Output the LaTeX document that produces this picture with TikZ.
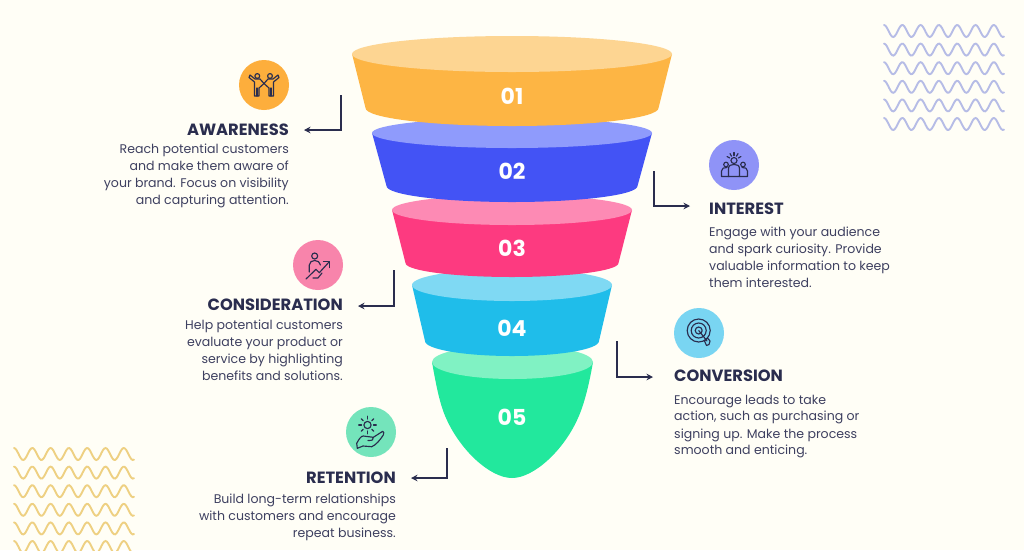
\documentclass[tikz,border=0pt]{standalone}
\usepackage{fontspec}
\setmainfont{Poppins}
\usetikzlibrary{arrows.meta}
\definecolor{bgc}{HTML}{FFFEF6}
\definecolor{navy}{HTML}{2A2D4E}
\definecolor{bodyc}{HTML}{3E4060}
\definecolor{wavblue}{RGB}{182,188,230}
\definecolor{wavgold}{RGB}{238,208,130}
\definecolor{sideA}{RGB}{253,181,68}
\definecolor{topA}{RGB}{253,213,146}
\definecolor{sideB}{RGB}{67,83,245}
\definecolor{topB}{RGB}{143,155,252}
\definecolor{sideC}{RGB}{253,58,128}
\definecolor{topC}{RGB}{253,138,180}
\definecolor{sideD}{RGB}{31,189,234}
\definecolor{topD}{RGB}{127,217,243}
\definecolor{sideE}{RGB}{34,232,157}
\definecolor{topE}{RGB}{128,242,195}
\definecolor{discA}{RGB}{253,174,60}
\definecolor{discB}{RGB}{143,147,247}
\definecolor{discC}{RGB}{248,132,171}
\definecolor{discD}{RGB}{121,213,242}
\definecolor{discE}{RGB}{116,228,187}
\tikzset{
  x=1pt,y=-1pt,
  head/.style={inner sep=0pt,text=navy,font=\fontsize{16.3}{17}\selectfont\bfseries,text height=11.4pt,text depth=0pt},
  bodytxt/.style={inner sep=0pt,text=bodyc,font=\fontsize{12.55}{17}\selectfont},
  num/.style={text=white,font=\fontsize{22}{22}\selectfont\bfseries,inner sep=0pt},
  dot/.style={circle,minimum size=50pt,inner sep=0pt},
  conn/.style={draw=navy,line width=1.7pt,-{Stealth[length=6.5pt,width=6.5pt]},shorten >=15pt},
  ico/.style={draw=navy,line width=1.15pt,line cap=round,line join=round,fill=none},
  wav/.style={line width=1.9pt,line cap=round}
}
% half-ellipse helpers; #1 cx, #2 cy, #3 rx, #4 ry
\newcommand{\lowerhalf}[4]{.. controls ({#1-#3},{#2+0.5523*#4}) and ({#1-0.5523*#3},{#2+#4}) .. ({#1},{#2+#4}) .. controls ({#1+0.5523*#3},{#2+#4}) and ({#1+#3},{#2+0.5523*#4}) .. ({#1+#3},{#2})}
\newcommand{\upperhalf}[4]{.. controls ({#1+#3},{#2-0.5523*#4}) and ({#1+0.5523*#3},{#2-#4}) .. ({#1},{#2-#4}) .. controls ({#1-0.5523*#3},{#2-#4}) and ({#1-#3},{#2-0.5523*#4}) .. ({#1-#3},{#2})}
\newcommand{\funnelseg}[8]{%
  \fill[#7] ({512-#2},#1) -- ({512-#5},#4) \lowerhalf{512}{#4}{#5}{#6} -- ({512+#2},#1) -- cycle;
  \fill[#8] ({512-#2},#1) \lowerhalf{512}{#1}{#2}{#3} \upperhalf{512}{#1}{#2}{#3} -- cycle;
}
\begin{document}
\begin{tikzpicture}
\useasboundingbox (0,0) rectangle (1024,550);
\fill[bgc] (0,0) rectangle (1024,550);

% wave patterns
\begin{scope}
\clip (0,0) rectangle (1024,550);
\foreach \yy in {31,49.6,68.2,86.8,105.4,124}
  \draw[wav,draw=wavblue] plot[smooth,domain=0:120,samples=90] ({884+\x},{\yy-6*cos(19.67*\x)});
\foreach \yy in {454,472.6,491.2,509.8,528.4,547}
  \draw[wav,draw=wavgold] plot[smooth,domain=0:120,samples=90] ({14+\x},{\yy-6*cos(19.67*\x)});
\end{scope}

% funnel, bottom to top
\fill[sideE] (432,362) .. controls (436,385) and (440,405) .. (446,418) .. controls (460,450) and (490,478) .. (512,478) .. controls (534,478) and (564,450) .. (578,418) .. controls (584,405) and (589,385) .. (593,362) -- cycle;
\fill[topE] (432,362) \lowerhalf{512.5}{362}{80.5}{17} \upperhalf{512.5}{362}{80.5}{17} -- cycle;
\funnelseg{285}{100}{16}{341}{87}{15}{sideD}{topD}
\funnelseg{210}{120}{15}{263}{106.5}{14}{sideC}{topC}
\funnelseg{133}{140}{15}{186}{125.5}{16}{sideB}{topB}
\funnelseg{54}{160}{18}{108}{146.5}{18}{sideA}{topA}

\node[num] (n1) at (512,96) {01};
\node[num] (n2) at (512,171) {02};
\node[num] (n3) at (512,248) {03};
\node[num] (n4) at (512,328) {04};
\node[num] (n5) at (512,417) {05};

% icon discs
\node[dot,fill=discA] (i1) at (264,85) {};
\node[dot,fill=discB] (i2) at (734,165) {};
\node[dot,fill=discC] (i3) at (318,265) {};
\node[dot,fill=discD] (i4) at (699,333) {};
\node[dot,fill=discE] (i5) at (371,432) {};

% headings
\node[head,anchor=east] (h1) at (289,130) {AWARENESS};
\node[head,anchor=west] (h2) at (709,209) {INTEREST};
\node[head,anchor=east] (h3) at (343,305) {CONSIDERATION};
\node[head,anchor=west] (h4) at (674,376) {CONVERSION};
\node[head,anchor=east] (h5) at (396,478) {RETENTION};

% body
\node[bodytxt,anchor=north east,align=right] (b1) at (289,143.5) {Reach potential customers\\and make them aware of\\your brand. Focus on visibility\\and capturing attention.};
\node[bodytxt,anchor=north west,align=left] (b2) at (709,226.5) {Engage with your audience\\and spark curiosity. Provide\\valuable information to keep\\them interested.};
\node[bodytxt,anchor=north east,align=right] (b3) at (343,319.5) {Help potential customers\\evaluate your product or\\service by highlighting\\benefits and solutions.};
\node[bodytxt,anchor=north west,align=left] (b4) at (674,394.5) {Encourage leads to take\\action, such as purchasing or\\signing up. Make the process\\smooth and enticing.};
\node[bodytxt,anchor=north east,align=right] (b5) at (396,493.5) {Build long-term relationships\\with customers and encourage\\repeat business.};

% connectors
\coordinate (c1) at (341,95);
\coordinate (c2) at (654,171);
\coordinate (c3) at (394,270);
\coordinate (c4) at (617,341);
\coordinate (c5) at (447,448);
\draw[conn] (c1) |- (h1.east);
\draw[conn,shorten >=19pt] (c2) |- ([yshift=3pt]h2.west);
\draw[conn] (c3) |- ([yshift=-1pt]h3.east);
\draw[conn,shorten >=21pt] (c4) |- ([yshift=-1pt]h4.west);
\draw[conn] (c5) |- (h5.east);

% icon 1: two people
\begin{scope}[shift={(i1.center)},ico]
\draw (-6.7,-9) circle[radius=2.4];
\draw (6,-9) circle[radius=2.4];
\draw (-15,-7.5) -- (-14,-10) -- (-9,-6) -- (-4,-6) -- (0,-1.5) -- (4,-6) -- (9,-6) -- (14,-10) -- (15,-7.5) -- (9.5,-3) -- (9.5,11) -- (5,11) -- (5,3) -- (0,-1.5) -- (-5,3) -- (-5,11) -- (-9.5,11) -- (-9.5,-3) -- cycle;
\draw (-7,3) -- (-7,11) (7,3) -- (7,11);
\end{scope}

% icon 2: audience and sun
\begin{scope}[shift={(i2.center)},ico]
\draw (0,-4.5) circle[radius=3];
\foreach \a in {-150,-120,-90,-60,-30}
  \draw ({5*cos(\a)},{-4.5+5*sin(\a)}) -- ({8*cos(\a)},{-4.5+8*sin(\a)});
\draw (-8,-0.5) circle[radius=2.3];
\draw (9,-0.5) circle[radius=2.3];
\draw (-5,11.5) -- (-12.5,11.5) -- (-12.5,6) .. controls (-12.5,3) and (-10,2.5) .. (-7,2.5);
\draw (5.5,11.5) -- (13.5,11.5) -- (13.5,6) .. controls (13.5,3) and (11,2.5) .. (8,2.5);
\draw (-5.5,11.5) -- (-5.5,4) .. controls (-5.5,0) and (-3,-0.5) .. (0,-0.5) .. controls (3,-0.5) and (5.5,0) .. (5.5,4) -- (5.5,11.5) -- cycle;
\end{scope}

% icon 3: person and rising arrow
\begin{scope}[shift={(i3.center)},ico]
\draw (-3.3,-9) circle[radius=3];
\draw (-8.7,7) -- (-8.7,0) .. controls (-8.7,-3) and (-6,-4.5) .. (-3.3,-4.5) .. controls (-0.5,-4.5) and (2,-3) .. (2.5,0);
\draw (-12,14) -- (-2,4.3) -- (1.3,7.7) -- (11.3,-3.3);
\draw (5.5,-3.3) -- (11.3,-3.3) -- (11.3,2.5);
\draw (-5,13) -- (0,13) -- (4,8);
\end{scope}

% icon 4: target
\begin{scope}[shift={(i4.center)},ico]
\draw (-0.3,-2.5) circle[radius=11.5];
\draw (-0.3,-2.5) circle[radius=7.5];
\draw (-0.3,-2.5) circle[radius=3.5];
\draw (-0.3,-2.5) -- (8,8);
\draw (5.5,8) -- (8.5,5) -- (11,8) -- (10,11.5) -- (7.5,12.5) -- cycle;
\end{scope}

% icon 5: sun over hand
\begin{scope}[shift={(i5.center)},ico]
\draw (-3.5,-7) circle[radius=3.6];
\foreach \a in {0,45,...,315}
  \draw ({-3.5+6*cos(\a)},{-7+6*sin(\a)}) -- ({-3.5+8.8*cos(\a)},{-7+8.8*sin(\a)});
\draw (-13.7,16.3) -- (-14.3,11.3) .. controls (-12,7) and (-10,4) .. (-7.7,4) -- (2.3,5.3) -- (11.7,-0.7) .. controls (13,-0.5) and (13,1.5) .. (12.3,3) .. controls (9,8) and (5,13) .. (0.7,14.7) -- (-8,14) -- (-13.7,16.3);
\draw (2.3,5.3) .. controls (3,8) and (1,8.5) .. (-3,8.5);
\end{scope}
\end{tikzpicture}
\end{document}
